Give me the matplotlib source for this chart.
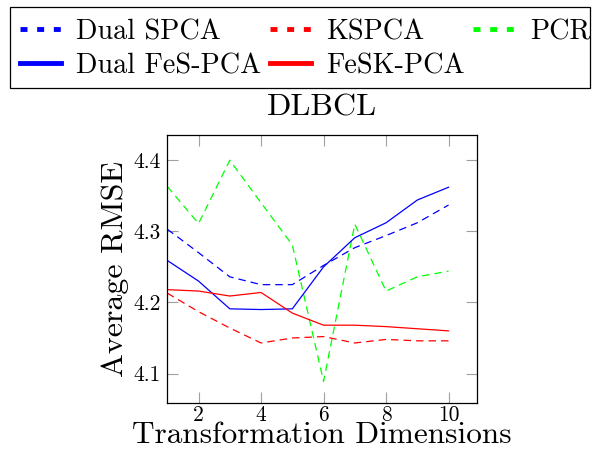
import matplotlib
matplotlib.use("Agg")
import matplotlib.pyplot as plt
from matplotlib.lines import Line2D
from matplotlib.patches import Rectangle

plt.rcParams['font.family'] = ['cmr10', 'DejaVu Serif']
plt.rcParams['mathtext.fontset'] = 'cm'
plt.rcParams['axes.unicode_minus'] = False
plt.rcParams['axes.formatter.use_mathtext'] = True

dims = [1, 2, 3, 4, 5, 6, 7, 8, 9, 10]
dual_spca = [4.303, 4.270, 4.236, 4.225, 4.225, 4.252, 4.277, 4.294, 4.312, 4.337]
dual_fes_pca = [4.259, 4.230, 4.191, 4.190, 4.191, 4.250, 4.291, 4.312, 4.344, 4.362]
kspca = [4.213, 4.187, 4.164, 4.143, 4.150, 4.152, 4.143, 4.148, 4.146, 4.146]
fesk_pca = [4.218, 4.216, 4.209, 4.214, 4.185, 4.168, 4.168, 4.166, 4.163, 4.160]
pcr = [4.363, 4.311, 4.400, 4.340, 4.281, 4.089, 4.310, 4.216, 4.236, 4.244]

xticks = [2, 4, 6, 8, 10]
yticks = [4.1, 4.2, 4.3, 4.4]

W, H = 592, 450
fig = plt.figure(figsize=(W / 100, H / 100), dpi=100)
ax = fig.add_axes([0.2826, 0.1051, 0.8052 - 0.2826, 0.6993 - 0.1051])

lw = 0.9
dash = (6, 4)
ax.plot(dims, dual_spca, color=(0, 0, 1), lw=lw, dashes=dash)
ax.plot(dims, kspca, color=(1, 0, 0), lw=lw, dashes=dash)
ax.plot(dims, pcr, color=(0, 1, 0), lw=lw, dashes=dash)
ax.plot(dims, dual_fes_pca, color=(0, 0, 1), lw=lw)
ax.plot(dims, fesk_pca, color=(1, 0, 0), lw=lw)

ax.set_xlim(1, 10.9)
ax.set_ylim(4.059, 4.435)
ax.set_xticks(xticks)
ax.set_yticks(yticks)
ax.set_xticklabels([str(t) for t in xticks])
ax.set_yticklabels([f"{t:.1f}" for t in yticks])
ax.tick_params(direction='in', length=8, width=0.8, color='#a0a0a0',
               top=True, right=True, labelsize=15.5)
ax.tick_params(axis='y', pad=4.5)
ax.tick_params(axis='x', pad=2)
for s in ax.spines.values():
    s.set_linewidth(0.9)

ax.set_xlabel('Transformation Dimensions', fontsize=22.5, labelpad=-2.5)
ax.set_ylabel('Average RMSE', fontsize=23, labelpad=3)
ax.set_title('DLBCL', fontsize=23, pad=14)

hlw = 3.5
hd = (1.43, 2.0)
handles = [
    Line2D([], [], color=(0, 0, 1), lw=hlw, dashes=hd),
    Line2D([], [], color=(0, 0, 1), lw=hlw),
    Line2D([], [], color=(1, 0, 0), lw=hlw, dashes=hd),
    Line2D([], [], color=(1, 0, 0), lw=hlw),
    Line2D([], [], color=(0, 1, 0), lw=hlw, dashes=hd),
]
labels = ['Dual SPCA', 'Dual FeS-PCA', 'KSPCA', 'FeSK-PCA', 'PCR']
leg = fig.legend(handles, labels, ncol=3, loc='upper left',
                 bbox_to_anchor=(20 / W, 1 - 19 / H), fontsize=20.3, frameon=False,
                 handlelength=1.45, handletextpad=0.55, columnspacing=0.3,
                 labelspacing=0.27, borderpad=0, borderaxespad=0)

fig.patches.append(Rectangle((10 / W, 1 - 88 / H), 580 / W, 81 / H,
                             transform=fig.transFigure, fill=False,
                             lw=0.9, ec='black'))

fig.savefig('out.png', dpi=100)
